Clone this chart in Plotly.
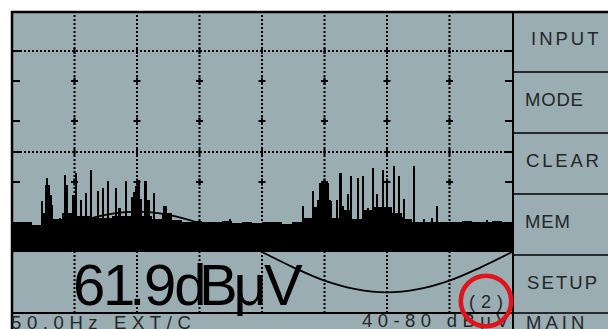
import plotly.graph_objects as go

# ---------------------------------------------------------------------------
# Phase-resolved pulse display of the detector (one 50 Hz cycle, 0..360 deg)
# ---------------------------------------------------------------------------
BASE_LEVEL = 40.0            # dBμV at the bottom of the pulse window
FLOOR_STEP = 7.2             # degrees covered by one floor segment

# noise floor / dense pulse carpet, one value per 7.2 deg segment (dBμV)
floor_level = [
    45.0, 45.0, 44.5, 46.5, 45.5, 46.5, 46.0, 46.0, 45.7, 45.7,
    46.0, 46.0, 48.0, 46.0, 45.5, 46.5, 45.3, 45.0, 45.2, 45.0,
    45.0, 45.2, 44.9, 45.0, 44.9, 45.0, 45.0, 44.6, 45.0, 45.7,
    47.5, 48.5, 45.7, 47.0, 45.5, 47.0, 47.5, 47.5, 46.5, 45.5,
    45.0, 45.0, 45.0, 45.0, 45.0, 45.1, 45.0, 45.0, 45.1, 45.0,
]
floor_phase = [FLOOR_STEP * (i + 0.5) for i in range(len(floor_level))]

# individual discharge pulses: phase (deg) and peak level (dBμV)
spike_phase = [
    21.6, 24.5, 25.2, 26.6, 27.7, 28.8, 34.6, 38.2, 39.6, 44.3,
    45.9, 49.5, 53.3, 56.7, 59.0, 62.1, 65.7, 69.3, 74.9, 77.4,
    81.9, 86.4, 87.8, 89.3, 91.1, 92.9, 96.1, 98.3, 102.2, 109.4,
    110.9, 156.9,
    209.3, 212.6, 216.5, 220.0, 222.1, 223.9, 225.7, 227.5, 229.0, 230.9,
    232.6, 233.8, 236.5, 238.5, 240.1, 242.1, 243.9, 249.3, 252.9, 256.5,
    260.1, 262.6, 265.0, 267.3, 270.0, 272.2, 275.0, 278.5, 280.6, 282.2,
    289.6, 296.6, 302.2, 305.8, 342.0,
]
spike_level = [
    48.5, 51.2, 52.3, 51.2, 49.5, 47.8, 45.7, 52.8, 51.2, 49.5,
    53.2, 48.6, 49.8, 53.6, 45.8, 50.2, 50.7, 51.9, 50.7, 47.3,
    51.9, 49.2, 50.0, 51.0, 52.0, 48.8, 51.9, 48.7, 49.8, 47.7,
    47.7, 45.5,
    47.7, 45.7, 50.2, 48.6, 51.5, 51.8, 51.7, 51.5, 48.7, 45.7,
    45.5, 48.7, 53.1, 47.7, 46.9, 49.7, 52.7, 52.3, 52.7, 47.3,
    54.0, 49.7, 47.5, 53.6, 52.2, 45.9, 54.4, 52.7, 45.9, 48.8,
    54.4, 45.5, 45.6, 47.7, 45.3,
]
assert len(spike_phase) == len(spike_level)

# 50 Hz phase reference, normalised
ref_phase = [0, 22.5, 45, 67.5, 90, 112.5, 135, 157.5, 180,
             202.5, 225, 247.5, 270, 292.5, 315, 337.5, 360]
ref_value = [0, 0.38, 0.71, 0.92, 1.0, 0.92, 0.71, 0.38, 0,
             -0.38, -0.71, -0.92, -1.0, -0.92, -0.71, -0.38, 0]

reading_text = "61.9dBμV"
button_labels = ["INPUT", "MODE", "CLEAR", "MEM", "SETUP"]
status_left = "50.0Hz EXT/C"
status_range = "40-80 dBμV"
status_page = "(2)"
status_menu = "MAIN"

# ---------------------------------------------------------------------------
# Screen geometry (pixels of the 608 x 329 panel)
# ---------------------------------------------------------------------------
W, H = 608, 329
PLOT_L, PLOT_R = 12, 512
PLOT_T, PLOT_B = 12, 312
Y_RANGE = [30, 80]            # dBμV over the plot domain (6 px / dB)
REF_PX = 40.3                 # reference sine amplitude in px
REF_ZERO_PX = 252             # reference sine centre line
DEG_PER_PX = 360 / (PLOT_R - PLOT_L)

SCREEN = "#99adb3"
INK = "#000000"
LABEL = "#262626"
RING = "#e3131b"


def xp(px):
    return px / W


def yp(py):
    return 1 - py / H


fig = go.Figure()

fig.add_trace(go.Bar(
    x=floor_phase, y=[v - BASE_LEVEL for v in floor_level], base=BASE_LEVEL,
    width=FLOOR_STEP, marker=dict(color=INK, line_width=0), hoverinfo="skip"))
fig.add_trace(go.Bar(
    x=spike_phase, y=[v - BASE_LEVEL for v in spike_level], base=BASE_LEVEL,
    width=1.5, marker=dict(color=INK, line_width=0), hoverinfo="skip"))
fig.add_trace(go.Scatter(
    x=ref_phase, y=ref_value, yaxis="y2", mode="lines",
    line=dict(color=INK, width=1.8, shape="spline"), hoverinfo="skip"))

# status-bar range text sits under the red ring, so it is a text trace
fig.add_trace(go.Scatter(
    x=[362], y=[322], xaxis="x3", yaxis="y3", mode="text",
    text=['<span style="letter-spacing:5.4px">%s</span>' % status_range],
    textposition="middle right", cliponaxis=False,
    textfont=dict(family="Liberation Sans", size=18.5, color=LABEL),
    hoverinfo="skip"))

shapes = []
# screen backing
shapes.append(dict(type="rect", xref="paper", yref="paper",
                   x0=xp(11), x1=xp(W + 2), y0=yp(H + 2), y1=yp(11),
                   fillcolor=SCREEN, line_width=0, layer="below"))

dot = dict(color=INK, width=2, dash="2px,2px")
solid = dict(color=INK, width=2)

# vertical dotted divisions every 45 deg
for k in range(1, 8):
    shapes.append(dict(type="line", xref="x", yref="paper",
                       x0=45 * k, x1=45 * k, y0=yp(313), y1=yp(14),
                       line=dot, layer="below"))
# horizontal dotted divisions
for py in (51, 152):
    shapes.append(dict(type="line", xref="paper", yref="paper",
                       x0=xp(20), x1=xp(505), y0=yp(py), y1=yp(py),
                       line=dot, layer="below"))
# edge ticks
for py in (51, 81, 121, 152, 182):
    for a, b in ((12, 20), (505, 513)):
        shapes.append(dict(type="line", xref="paper", yref="paper",
                           x0=xp(a), x1=xp(b), y0=yp(py), y1=yp(py),
                           line=solid, layer="below"))
# crosses on the division lines
arm = 3.5 * DEG_PER_PX
for k in range(1, 8):
    for py in (81, 121, 182):
        shapes.append(dict(type="line", xref="x", yref="paper",
                           x0=45 * k - arm, x1=45 * k + arm,
                           y0=yp(py), y1=yp(py), line=solid, layer="below"))
        shapes.append(dict(type="line", xref="x", yref="paper",
                           x0=45 * k, x1=45 * k,
                           y0=yp(py + 3.5), y1=yp(py - 3.5),
                           line=solid, layer="below"))
    for py in (51, 152):
        shapes.append(dict(type="line", xref="x", yref="paper",
                           x0=45 * k, x1=45 * k,
                           y0=yp(py + 3), y1=yp(py - 3),
                           line=solid, layer="below"))

# frame lines
frame = [
    ((11, 12), (W + 2, 12), 2.5),       # top edge
    ((12, 11), (12, H + 2), 2.5),       # left edge
    ((513, 12), (513, H + 2), 2),       # menu divider
    ((12, 313), (513, 313), 2),         # status bar divider
]
for py in (72, 133, 194, 255, 313):
    frame.append(((513, py), (W + 2, py), 1.5))
for (ax, ay), (bx, by), w in frame:
    shapes.append(dict(type="line", xref="paper", yref="paper",
                       x0=xp(ax), x1=xp(bx), y0=yp(ay), y1=yp(by),
                       line=dict(color=INK, width=w), layer="above"))

# red ring round the page marker
shapes.append(dict(type="circle", xref="paper", yref="paper",
                   x0=xp(486 - 25.2), x1=xp(486 + 25.2),
                   y0=yp(301 + 25.2), y1=yp(301 - 25.2),
                   line=dict(color=RING, width=4.6), layer="above"))

annotations = []


def spaced(text, spacing):
    return '<span style="letter-spacing:%.1fpx">%s</span>' % (spacing, text)


def label(text, px, py, size, color=LABEL, anchor="left"):
    annotations.append(dict(
        text=text, xref="paper", yref="paper", x=xp(px), y=yp(py),
        xanchor=anchor, yanchor="middle", showarrow=False,
        borderpad=0, borderwidth=0,
        font=dict(family="Liberation Sans", size=size, color=color)))


button_x = [531, 525, 526, 525, 527]
button_y = [38.5, 99.5, 160.5, 221.5, 282]
button_spacing = [3.0, 0.8, 2.8, 0.9, 2.1]
for t, bx, by, sp in zip(button_labels, button_x, button_y, button_spacing):
    label(spaced(t, sp), bx, by, 18.5)

label(spaced(status_menu, 4.0), 526, 322, 18.5)
label(spaced(status_left, 5.6), 11, 322, 18.5)
label(spaced(status_page, 6.0), 469, 301.5, 18)

# large reading: per-glyph tracking to mimic the narrow LCD face
reading_tracking = [-2.2, -6.0, -1.5, -1.9, -7.5, -4.3, -2.9, 0.0]
reading_html = "".join(spaced(c, s) for c, s in zip(reading_text, reading_tracking))
label(reading_html, 72.6, 284, 58, color=INK)

fig.update_layout(
    width=W, height=H,
    margin=dict(l=0, r=0, t=0, b=0),
    paper_bgcolor="white", plot_bgcolor="rgba(0,0,0,0)",
    showlegend=False, barmode="overlay", bargap=0,
    hovermode=False,
    xaxis=dict(domain=[xp(PLOT_L), xp(PLOT_R)], range=[0, 360],
               visible=False, fixedrange=True),
    yaxis=dict(domain=[yp(PLOT_B), yp(PLOT_T)], range=Y_RANGE,
               visible=False, fixedrange=True),
    yaxis2=dict(overlaying="y",
                range=[(REF_ZERO_PX - PLOT_B) / REF_PX,
                       (REF_ZERO_PX - PLOT_T) / REF_PX],
                visible=False, fixedrange=True),
    xaxis3=dict(domain=[0, 1], range=[0, W], anchor="y3",
                visible=False, fixedrange=True),
    yaxis3=dict(domain=[0, 1], range=[H, 0], anchor="x3",
                visible=False, fixedrange=True),
    shapes=shapes, annotations=annotations,
)

fig.write_html("out.html")
